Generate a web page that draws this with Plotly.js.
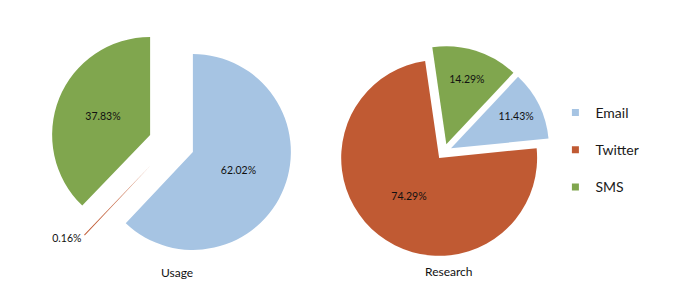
<!DOCTYPE html>
<html>
<head>
<meta charset="utf-8">
<script src="https://cdn.plot.ly/plotly-3.0.1.min.js"></script>
<style>html,body{margin:0;padding:0;background:#fff;}#chart{width:684px;height:301px;}</style>
</head>
<body>
<div id="chart"></div>
<script>
var categories = ['Email', 'Twitter', 'SMS'];
var usageValues = [62.02, 0.16, 37.83];
var researchValues = [11.43, 74.29, 14.29];
var chartTitles = ['Usage', 'Research'];
var colors = ['#a6c4e3', '#c05a33', '#80a64e'];

var font = 'Lato, "Open Sans", sans-serif';

var traces = [
  {
    type: 'pie', name: chartTitles[0], labels: categories, values: usageValues,
    sort: false, direction: 'clockwise', rotation: 0,
    pull: [0.235, 0.29, 0.235],
    marker: {colors: colors, line: {width: 0}},
    texttemplate: '%{value:.2f}%',
    textposition: ['inside', 'outside', 'inside'],
    insidetextorientation: 'horizontal',
    textfont: {family: font, size: 10.5, color: '#111'},
    domain: {x: [0.0659, 0.4355], y: [0.1033, 0.9433]},
    showlegend: false, hoverinfo: 'label+percent'
  },
  {
    type: 'pie', name: chartTitles[1], labels: categories, values: researchValues,
    sort: false, direction: 'clockwise', rotation: 43.2,
    pull: [0.08, 0.08, 0.08],
    marker: {colors: colors, line: {width: 0}},
    texttemplate: '%{value:.2f}%',
    textposition: 'inside',
    insidetextorientation: 'horizontal',
    textfont: {family: font, size: 10.5, color: '#111'},
    domain: {x: [0.4944, 0.8038], y: [0.1445, 0.8475]},
    showlegend: false, hoverinfo: 'label+percent'
  }
];

// legend entries (one per category)
categories.forEach(function (c, i) {
  traces.push({
    type: 'scatter', mode: 'markers', x: [null], y: [null], name: c,
    legendgroup: c, showlegend: true,
    marker: {symbol: 'square', size: 7, color: colors[i]},
    hoverinfo: 'skip'
  });
});

var layout = {
  width: 684, height: 301,
  margin: {l: 0, r: 0, t: 0, b: 0},
  paper_bgcolor: '#fff', plot_bgcolor: '#fff',
  xaxis: {visible: false}, yaxis: {visible: false},
  showlegend: true,
  legend: {
    x: 0.812, xanchor: 'left', y: 0.678, yanchor: 'top',
    tracegroupgap: 16, itemwidth: 30,
    font: {family: font, size: 14, color: '#1a1a1a'},
    bgcolor: 'rgba(0,0,0,0)'
  },
  annotations: [
    {text: chartTitles[0], x: 176.7 / 684, y: 1 - 272.5 / 301, xref: 'paper', yref: 'paper',
     xanchor: 'center', yanchor: 'middle',
     showarrow: false, font: {family: font, size: 12, color: '#111'}},
    {text: chartTitles[1], x: 448.5 / 684, y: 1 - 271.7 / 301, xref: 'paper', yref: 'paper',
     xanchor: 'center', yanchor: 'middle',
     showarrow: false, font: {family: font, size: 12, color: '#111'}}
  ]
};

Plotly.newPlot('chart', traces, layout, {displayModeBar: false, staticPlot: true});
</script>
</body>
</html>
